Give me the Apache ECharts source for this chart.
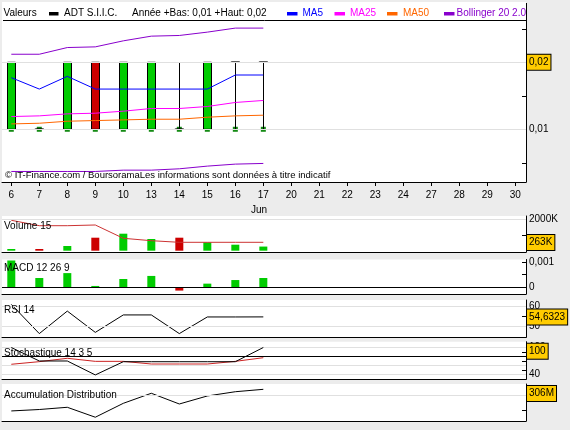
<!DOCTYPE html>
<html><head><meta charset="utf-8">
<script src="https://cdn.jsdelivr.net/npm/echarts@6/dist/echarts.min.js"></script>
<style>html,body{margin:0;padding:0;background:#ececec;}#c{width:570px;height:430px;}</style>
</head><body><div id="c"></div>
<script>
// ---- data ----
const xLabels = ['6','7','8','9','10','13','14','15','16','17','20','21','22','23','24','27','28','29','30'];
const opens  = [0.01,0.01,0.01,0.02,0.01,0.01,0.01,0.01,0.02,0.02];
const closes = [0.02,0.01,0.02,0.01,0.02,0.02,0.01,0.02,0.02,0.02];
const lows   = [0.01,0.01,0.01,0.01,0.01,0.01,0.01,0.01,0.01,0.01];
const highs  = [0.02,0.01,0.02,0.02,0.02,0.02,0.02,0.02,0.02,0.02];
const ma5    = [0.0177,0.016,0.0179,0.016,0.016,0.016,0.016,0.016,0.0181,0.0181];
const ma25   = [0.0119,0.0120,0.0123,0.0124,0.0127,0.0131,0.0131,0.0134,0.0140,0.0143];
const ma50   = [0.0108,0.0109,0.0112,0.0113,0.0114,0.0115,0.0115,0.0118,0.0120,0.0121];
const bollUp = [0.0212,0.0212,0.0222,0.0223,0.0232,0.0239,0.0240,0.0245,0.0251,0.0251];
const bollLo = [0.0037,0.0037,0.0037,0.0037,0.0039,0.0039,0.0041,0.0045,0.0048,0.0049];
const volume = [108,108,300,828,1083,745,828,535,382,263];      // K
const volMA  = [1936,1592,1592,1637,790,637,535,535,535,535];   // K
const macd   = [0.00105,0.00037,0.00056,0.00006,0.00033,0.00045,-0.00012,0.00015,0.00029,0.00037];
const rsi    = [60.8,46.4,57.5,47.0,55.6,55.6,46.4,54.6,54.6,54.6323];
const stochK = [100,70,70,39,68.4,68.4,68.4,68.4,68.4,100];
const stochD = [62.7,68.5,76,69.2,69.2,63.3,63.3,63.3,69.2,77.3];
const accDist= [284.0,285.5,287.8,277.5,291.9,302.3,291.2,299.5,303.9,306.4]; // M

const FONT = 'Liberation Sans, Arial, sans-serif';
const XMIN = -0.332, XMAX = 18.38;
const G = [
  {top:20, bottom:182, min:0.00213, max:0.02631},
  {top:216, bottom:252, min:-83, max:2210},
  {top:259.5, bottom:294, min:-0.000253, max:0.001089},
  {top:300, bottom:337.3, min:44.58, max:62.96},
  {top:341.7, bottom:379.3, min:29.3, max:112.9},
  {top:384, bottom:421, min:273.6, max:311.9}
];
const tickVals = [[0.005,0.01,0.015,0.02,0.025],[1000,2000],[0,0.0005,0.001],[50,55,60],[40,50,60,70,80,90,100],[285,300]];
const labelVals = [[0.01,0.02],[2000],[0,0.001],[50,60],[40,100],[]];
const labelFmt = [v=>String(v).replace('.',','), v=>v+'K', v=>String(v).replace('.',','), v=>String(v), v=>String(v), v=>v+'M'];

const chart = echarts.init(document.getElementById('c'));
const idx = xLabels.map((_,i)=>i);
const pts = arr => arr.map((v,i)=>[i,v]);
const GRID_GRAY = '#e0e0e0';
function gl(items){
  return {silent:true, symbol:'none', animation:false, label:{show:false},
    lineStyle:{color:GRID_GRAY, width:1, type:'solid'},
    data: items.map(it => typeof it === 'number' ? {yAxis:it} : {yAxis:it.v, lineStyle:{color:it.c, width:1, type:'solid'}})};
}
const grids = G.map(g => ({left:2, right:44, top:g.top, height:g.bottom-g.top, show:true, backgroundColor:'#fff', borderWidth:0}));
const xAxes = G.map((g,k) => ({
  type:'value', gridIndex:k, min:XMIN, max:XMAX, splitLine:{show:false},
  axisLine:{show:true, onZero:false, lineStyle:{color:'#000', width:1}},
  axisTick: k===0 ? {show:true, length:4, customValues:idx, lineStyle:{color:'#000'}} : {show:false},
  axisLabel: k===0 ? {show:true, customValues:idx, formatter:v=>xLabels[Math.round(v)], fontSize:10, fontFamily:FONT, color:'#000', margin:8} : {show:false}
}));
const yAxes = G.map((g,k) => ({
  type:'value', gridIndex:k, position:'right', min:g.min, max:g.max, splitLine:{show:false},
  axisLine:{show:true, onZero:false, lineStyle:{color:'#000', width:1}},
  axisTick:{show:true, inside:true, length:4, customValues:tickVals[k], lineStyle:{color:'#000'}},
  axisLabel:{show:true, customValues:labelVals[k], formatter:labelFmt[k], fontSize:10, fontFamily:FONT, color:'#000', margin:3}
}));
const up = closes.map((c,i)=> i===0 ? true : c >= closes[i-1]);
const GREEN = '#00cc00', RED = '#cc0000';
const lineS = (name, data, color, k, z, extra) => Object.assign({
  name, type:'line', xAxisIndex:k, yAxisIndex:k, data:pts(data), symbol:'none', showSymbol:false,
  lineStyle:{color, width:1}, itemStyle:{color}, z: z||4, animation:false
}, extra||{});

// doji candles (open == close) drawn as a short horizontal bar at the open price
const dojiPts = opens.map((o,i)=> o === closes[i] ? [i,o] : null).filter(p => p);

const series = [
  lineS('Bollinger bas', bollLo, '#8800cc', 0, 1, {markLine: gl([0.01,0.02])}),
  lineS('Bollinger haut', bollUp, '#8800cc', 0, 4),
  {type:'scatter', xAxisIndex:0, yAxisIndex:0, data:pts(lows), symbol:'rect', symbolSize:5, itemStyle:{color:'#138a13', opacity:1}, z:2, animation:false},
  {type:'candlestick', xAxisIndex:0, yAxisIndex:0, barWidth:8, z:3, animation:false,
   encode:{x:0, y:[1,2,3,4]},
   data: opens.map((o,i)=>[i,o,closes[i],lows[i],highs[i]]),
   itemStyle:{color:GREEN, color0:RED, borderColor:'#000', borderColor0:'#000', borderColorDoji:'#000', borderWidth:1}},
  {type:'scatter', xAxisIndex:0, yAxisIndex:0, data:dojiPts, symbol:'rect', symbolSize:[9,1.3], itemStyle:{color:'#000', opacity:1}, z:3.5, animation:false},
  lineS('MA50', ma50, '#ff6600', 0, 4),
  lineS('MA25', ma25, '#ff00ff', 0, 4),
  lineS('MA5', ma5, '#0000ff', 0, 4),
  {type:'bar', xAxisIndex:1, yAxisIndex:1, barWidth:8, z:2, animation:false,
   data: volume.map((v,i)=>({value:[i,v], itemStyle:{color: up[i]?GREEN:RED}})),
   markLine: gl([2000])},
  lineS('Volume 15', volMA, '#cc3333', 1, 4),
  {type:'bar', xAxisIndex:2, yAxisIndex:2, barWidth:8, z:2, animation:false,
   data: macd.map((v,i)=>({value:[i,v], itemStyle:{color: v>=0?GREEN:RED}})),
   markLine: gl([0.001, {v:0, c:'#000'}])},
  lineS('RSI 14', rsi, '#000', 3, 4, {markLine: gl([50,60])}),
  lineS('%D', stochD, '#cc2222', 4, 4, {markLine: gl([100,60,40,{v:80,c:'#000'}])}),
  lineS('%K', stochK, '#000', 4, 5),
  lineS('AD', accDist, '#000', 5, 4, {markLine: gl([300])})
];

const txt = (text, x, y, color, size, extra) => Object.assign({type:'text', x, y, z:10,
  style:{text, fill:color||'#000', font:(size||10)+'px '+FONT, verticalAlign:'middle', align:'left'}}, extra||{});
const rect = (x, y, w, h, color) => ({type:'rect', z:10, shape:{x, y, width:w, height:h}, style:{fill:color}});
const baseGraphic = [
  {type:'rect', z:-10, shape:{x:2, y:2, width:524, height:18}, style:{fill:'#fff'}},
  {type:'line', z:10, shape:{x1:3, y1:20.5, x2:526, y2:20.5}, style:{stroke:'#000', lineWidth:1}},
  {type:'line', z:10, shape:{x1:526.5, y1:3, x2:526.5, y2:20}, style:{stroke:'#000', lineWidth:1}},
  txt('Valeurs', 3.5, 13),
  rect(49, 12, 9.5, 3.5, '#000'),
  txt('ADT S.I.I.C.', 64, 13),
  txt('Année +Bas: 0,01 +Haut: 0,02', 132, 13),
  rect(287, 12, 10.5, 3.5, '#0000ff'),
  txt('MA5', 302.5, 13, '#0000ff'),
  rect(334.5, 12, 10.5, 3.5, '#ff00ff'),
  txt('MA25', 350, 13, '#ff00ff'),
  rect(387, 12, 10.5, 3.5, '#ff6600'),
  txt('MA50', 403, 13, '#ff6600'),
  rect(444, 12, 10.5, 3.5, '#8800cc'),
  txt('Bollinger 20 2.0', 456.5, 13, '#8800cc'),
  txt('\u00a9 IT-Finance.com / BoursoramaLes informations sont données à titre indicatif', 5, 175, '#000', 9.5),
  txt('Jun', 259, 210.5, '#000', 10, {style:{text:'Jun', fill:'#000', font:'10px '+FONT, verticalAlign:'middle', align:'center'}}),
  txt('Volume 15', 4, 226.5),
  txt('MACD 12 26 9', 4, 268.5),
  txt('RSI 14', 4, 310.5),
  txt('Stochastique 14 3 5', 4, 353.5),
  txt('Accumulation Distribution', 4, 395)
];

chart.setOption({
  animation:false,
  backgroundColor:'#ececec',
  textStyle:{fontFamily:FONT},
  grid:grids, xAxis:xAxes, yAxis:yAxes, series,
  graphic:{elements: baseGraphic}
});

// value boxes on the right, positioned through the axes' scales
const last = closes.length - 1;
const boxes = [
  {g:0, v:closes[last], t:String(closes[last]).replace('.',',')},
  {g:1, v:volume[last], t:Math.round(volume[last])+'K'},
  {g:3, v:rsi[last], t:rsi[last].toFixed(4).replace('.',',')},
  {g:4, v:stochK[last], t:String(Math.round(stochK[last]))},
  {g:5, v:accDist[last], t:Math.round(accDist[last])+'M'}
];
const boxGfx = boxes.map(b => {
  const H = 17;
  let y = chart.convertToPixel({xAxisIndex:b.g, yAxisIndex:b.g}, [last, b.v])[1];
  y = Math.max(G[b.g].top + 1 + H/2, Math.min(G[b.g].bottom - 1 - H/2, y));
  return {type:'text', x:527, y, z:100,
    style:{text:b.t, fill:'#000', font:'10px '+FONT, verticalAlign:'middle', align:'left',
      backgroundColor:'#ffcc00', borderColor:'#000', borderWidth:1, padding:[3,2,2,2]}};
});
chart.setOption({graphic:{elements: baseGraphic.concat(boxGfx)}});
</script>
</body></html>
